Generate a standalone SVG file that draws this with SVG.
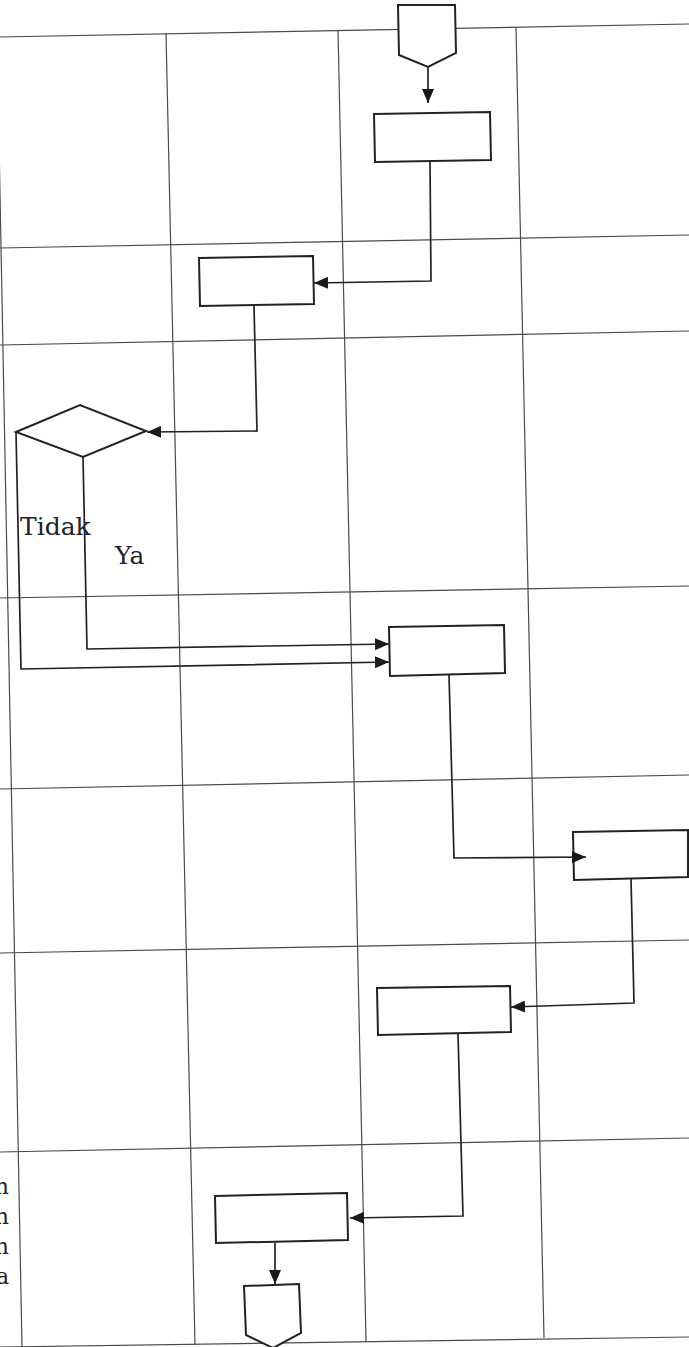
<svg xmlns="http://www.w3.org/2000/svg" width="689" height="1347" viewBox="0 0 689 1347">
<style>
.lane{stroke:#4a4a4a;stroke-width:1.2;fill:none}
.node{fill:#fff;stroke:#222;stroke-width:2;stroke-linejoin:miter}
.conn{fill:none;stroke:#222;stroke-width:1.7}
.lbl{font-family:"DejaVu Serif","Liberation Serif",serif;font-size:25px;fill:#222}
.frag{font-family:"DejaVu Serif","Liberation Serif",serif;font-size:22px;fill:#222}
</style>
<defs>
<marker id="arr" markerUnits="userSpaceOnUse" viewBox="0 0 14 12" markerWidth="14" markerHeight="12" refX="14" refY="6" orient="auto">
<path d="M0,0 L14,6 L0,12 z" fill="#1a1a1a"/>
</marker>
</defs>
<rect x="0" y="0" width="689" height="1347" fill="#fff"/>
<g id="lanes">
<line class="lane" x1="0" y1="37" x2="689" y2="24"/>
<line class="lane" x1="0" y1="248" x2="689" y2="235"/>
<line class="lane" x1="0" y1="345" x2="689" y2="331"/>
<line class="lane" x1="0" y1="598" x2="689" y2="586"/>
<line class="lane" x1="0" y1="789" x2="689" y2="775"/>
<line class="lane" x1="0" y1="953" x2="689" y2="940"/>
<line class="lane" x1="0" y1="1152" x2="689" y2="1138"/>
<line class="lane" x1="0" y1="1347" x2="689" y2="1337"/>
<line class="lane" x1="-3" y1="37" x2="22" y2="1347"/>
<line class="lane" x1="166" y1="33" x2="195" y2="1345"/>
<line class="lane" x1="338" y1="30" x2="366" y2="1341"/>
<line class="lane" x1="516" y1="27" x2="544" y2="1338"/>
</g>
<g id="start"><polygon class="node" points="398,5 455,5 456,53 428,67 399,55"/></g>
<g id="box1"><polygon class="node" points="374,114 490,112 491,160 375,162"/></g>
<g id="box2"><polygon class="node" points="199,258 313,256 314,304 200,306"/></g>
<g id="decision"><polygon class="node" points="16,432 80,405 146,431 83,457"/></g>
<g id="box3"><polygon class="node" points="389,627 504,625 505,673 390,676"/></g>
<g id="box4"><polygon class="node" points="573,832 688,830 688,877 574,880"/></g>
<g id="box5"><polygon class="node" points="377,988 510,986 511,1032 378,1035"/></g>
<g id="box6"><polygon class="node" points="215,1196 347,1193 348,1240 216,1243"/></g>
<g id="end"><polygon class="node" points="244,1286 299,1284 301,1333 273,1348 246,1335"/></g>
<g id="connectors">
<polyline class="conn" points="428,67 428,103" marker-end="url(#arr)"/>
<polyline class="conn" points="430,161 431,281 314,283" marker-end="url(#arr)"/>
<polyline class="conn" points="254,306 257,431 147,432" marker-end="url(#arr)"/>
<polyline class="conn" points="83,457 87,649 389,644" marker-end="url(#arr)"/>
<polyline class="conn" points="16,432 21,669 389,662" marker-end="url(#arr)"/>
<polyline class="conn" points="449,675 454,858 586,857" marker-end="url(#arr)"/>
<polyline class="conn" points="631,879 634,1003 511,1007" marker-end="url(#arr)"/>
<polyline class="conn" points="458,1034 463,1216 350,1218" marker-end="url(#arr)"/>
<polyline class="conn" points="275,1243 275,1284" marker-end="url(#arr)"/>
</g>
<g id="labels">
<text class="lbl" x="20" y="535">Tidak</text>
<text class="lbl" x="115" y="564">Ya</text>
<text class="frag" x="9" y="1194" text-anchor="end">n</text>
<text class="frag" x="9" y="1224" text-anchor="end">n</text>
<text class="frag" x="9" y="1254" text-anchor="end">n</text>
<text class="frag" x="9" y="1284" text-anchor="end">a</text>
</g>
</svg>
